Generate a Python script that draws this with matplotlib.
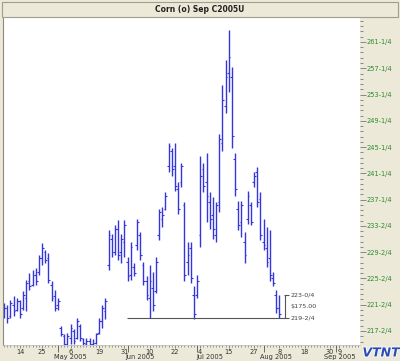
import numpy as np
import matplotlib
matplotlib.use("Agg")
import matplotlib.pyplot as plt
import matplotlib.transforms as mtransforms
import matplotlib.patheffects as pe
from matplotlib.patches import Rectangle

# daily OHLC, Sep 2005 corn, consecutive weekdays (index 0 = 14 Apr 2005)
bar_idx = list(range(-5, 83))
highs = [221.75, 221.5, 222.25, 222.75, 222.5, 222.25, 223.5, 225.25, 226.25, 226.75,
         227.0, 229.0, 230.75, 229.75, 229.25, 225.0, 223.75, 222.5, 218.25, 217.0,
         217.25, 218.5, 217.75, 219.5, 218.5, 216.5, 216.5, 216.5, 216.25, 217.25,
         219.5, 221.5, 222.5, 232.75, 232.25, 233.5, 234.25, 232.25, 234.25, 228.75,
         231.0, 227.75, 234.5, 232.5, 228.0, 225.75, 227.5, 226.5, 228.75, 236.0,
         236.25, 238.5, 246.0, 245.25, 246.0, 240.0, 243.0, 237.0, 231.0, 231.0,
         224.25, 226.0, 244.0, 243.0, 244.5, 238.5, 237.75, 237.0, 247.25, 254.75,
         258.5, 263.0, 257.5, 244.5, 237.25, 237.25, 232.5, 238.75, 237.0, 241.5,
         242.25, 238.5, 234.5, 233.25, 232.75, 226.5, 223.75, 223.0]
lows = [219.5, 218.75, 219.5, 219.75, 220.5, 219.5, 220.75, 220.5, 223.75, 224.25,
        224.5, 226.0, 227.5, 227.75, 224.75, 222.0, 220.5, 220.75, 216.75, 215.0,
        215.0, 215.5, 215.5, 216.25, 216.0, 215.25, 215.0, 215.25, 215.0, 215.5,
        217.0, 218.0, 219.25, 226.75, 228.75, 229.0, 228.25, 227.75, 228.75, 225.0,
        225.25, 225.75, 229.75, 228.25, 224.5, 222.25, 219.5, 220.5, 223.25, 231.25,
        233.25, 235.75, 241.5, 241.0, 238.75, 235.25, 239.25, 225.0, 226.0, 224.75,
        219.25, 222.5, 230.25, 238.5, 234.0, 233.0, 231.5, 231.0, 235.5, 244.75,
        250.5, 253.75, 245.25, 238.0, 232.75, 231.75, 227.75, 233.75, 233.5, 239.25,
        236.25, 231.25, 229.75, 227.25, 225.0, 224.25, 220.25, 219.5]
opens = [220.5, 221.0, 219.75, 221.5, 220.75, 222.0, 221.0, 222.5, 225.0, 224.5,
         226.0, 226.5, 228.5, 229.5, 228.5, 224.5, 222.75, 221.5, 218.0, 216.75,
         215.5, 216.5, 217.5, 216.5, 218.25, 216.25, 215.5, 216.0, 215.5, 215.75,
         217.25, 219.0, 220.5, 227.5, 231.5, 229.5, 233.0, 229.5, 231.0, 228.0,
         226.0, 227.25, 230.5, 232.0, 227.5, 225.0, 222.5, 224.0, 223.5, 232.0,
         234.5, 236.0, 242.5, 244.75, 242.5, 239.0, 240.0, 236.5, 228.0, 230.0,
         223.0, 223.0, 232.0, 242.0, 240.0, 237.0, 235.0, 232.0, 237.0, 246.0,
         251.5, 256.5, 256.0, 243.5, 236.0, 234.0, 231.0, 234.5, 236.5, 240.0,
         241.5, 237.5, 231.0, 230.0, 228.5, 225.5, 223.0, 221.0]
closes = [221.0, 219.5, 221.75, 220.5, 222.0, 220.0, 223.0, 224.75, 224.25, 226.0,
          225.0, 228.5, 230.0, 228.25, 225.25, 222.5, 221.0, 222.0, 217.0, 215.5,
          216.75, 218.0, 216.0, 219.0, 216.5, 215.75, 216.0, 215.5, 215.75, 217.0,
          219.0, 221.0, 222.0, 232.0, 229.5, 233.0, 229.0, 231.5, 233.5, 225.75,
          230.25, 226.25, 234.0, 229.0, 225.0, 223.0, 225.0, 221.5, 228.0, 235.5,
          235.0, 238.0, 245.5, 242.0, 239.5, 236.0, 242.5, 226.0, 229.0, 225.5,
          220.0, 225.0, 241.0, 239.5, 238.0, 234.5, 233.0, 236.5, 246.5, 252.5,
          256.0, 259.0, 247.0, 239.0, 233.5, 236.5, 229.0, 238.0, 234.0, 241.0,
          237.0, 232.0, 230.5, 228.0, 226.0, 224.75, 221.0, 220.0]

# price axis labels (right side)
price_labels = ["261-1/4", "257-1/4", "253-1/4", "249-1/4", "245-1/4", "241-1/4",
                "237-1/4", "233-2/4", "229-2/4", "225-2/4", "221-2/4", "217-2/4"]
price_top, price_bottom = 261.25, 217.5

# date axis labels (weekday index)
day_pos = [0, 7, 16, 25, 33, 41, 49, 57, 66, 74, 82, 90, 98, 101]
day_labels = ["14", "25", "6", "19", "31", "10", "22", "4", "15", "27", "8", "18", "30", "9"]
month_pos = [12, 34, 56, 77, 100]
month_text_pos = [16, 38, 60, 81, 101]
month_labels = ["May 2005", "Jun 2005", "Jul 2005", "Aug 2005", "Sep 2005"]

title = "Corn (o) Sep C2005U"
range_text = "$175.00"

W, H = 400, 361
def box(x0, y0, x1, y1):
    return [x0 / W, 1 - y1 / H, (x1 - x0) / W, (y1 - y0) / H]

beige = "#ECE9D8"
fig = plt.figure(figsize=(W / 100, H / 100), dpi=100)
fig.patch.set_facecolor(beige)

ax = fig.add_axes(box(3, 18, 360, 345))
ax.set_facecolor("white")
ax.set_xlim(-5.37, 107.5)
ax.set_ylim(215.38, 264.88)

bar_col = "#3535dd"
x = np.array(bar_idx)
ax.vlines(x, lows, highs, color=bar_col, lw=1.0)
ax.hlines(opens, x - 0.55, x, color=bar_col, lw=0.8)
ax.hlines(closes, x, x + 0.55, color=bar_col, lw=0.8)

# range measure on the last bar
hi, lo = highs[-1], lows[-1]
ax.hlines(lo, 33.8, x[-1] + 3.2, color="#555555", lw=0.8)
ax.hlines(hi, x[-1] + 1.5, x[-1] + 3.2, color="#555555", lw=0.8)
ax.vlines(x[-1] + 1.8, lo, hi, color="#555555", lw=0.8)
for val, txt in [(hi, "223-0/4"), ((hi + lo) / 2, range_text), (lo, "219-2/4")]:
    ax.text(x[-1] + 3.5, val, txt, fontsize=4.6, color="#444444", va="center", ha="left")

# right price axis
ax.yaxis.tick_right()
step = (price_top - price_bottom) / (len(price_labels) - 1)
ticks = [price_top - k * step for k in range(len(price_labels))]
ax.set_yticks(ticks, price_labels)
ax.set_yticks(np.arange(price_bottom - 2 * step / 5, 265, step / 5), minor=True)
ax.tick_params(axis="y", which="major", length=4, width=0.6, color="#777777",
               labelsize=4.8, labelcolor="#2f8a2f", pad=1)
ax.tick_params(axis="y", which="minor", length=2, width=0.6, color="#777777")

# bottom date axis
ax.set_xticks(day_pos, day_labels)
ax.set_xticks(np.arange(-5, 108), minor=True)
ax.tick_params(axis="x", which="major", length=2.5, width=0.6, color="#777777",
               labelsize=4.8, labelcolor="#333333", pad=0.5)
ax.tick_params(axis="x", which="minor", length=1.2, width=0.6, color="#888888")
trans = mtransforms.blended_transform_factory(ax.transData, ax.transAxes)
ax.vlines(month_pos, -0.02, 0, transform=trans, color="#555555", lw=0.6, clip_on=False)
for mp, ml in zip(month_text_pos, month_labels):
    ax.text(mp, -0.028, ml, transform=trans, fontsize=4.8, color="#333333",
            ha="center", va="top")

for side in ["top", "right"]:
    ax.spines[side].set_visible(False)
ax.spines["left"].set_color("#8a8a80")
ax.spines["bottom"].set_color("#bbbbbb")
ax.spines["bottom"].set_linewidth(0.5)

# title bar
fig.add_artist(Rectangle((2 / W, 1 - 17 / H), 396 / W, 15 / H, transform=fig.transFigure,
                         facecolor=beige, edgecolor="#a09e90", lw=0.8))
fig.text(200 / W, 1 - 9.5 / H, title, fontsize=5.5, fontweight="bold", color="#222222",
         ha="center", va="center")

# logo
fig.text(381 / W, 1 - 353 / H, "VTNT", fontsize=9, fontweight="bold", style="italic",
         color="#2a4db5", ha="center", va="center",
         path_effects=[pe.withStroke(linewidth=1.2, foreground="white")])

fig.savefig("out.png", dpi=100, facecolor=fig.get_facecolor())
